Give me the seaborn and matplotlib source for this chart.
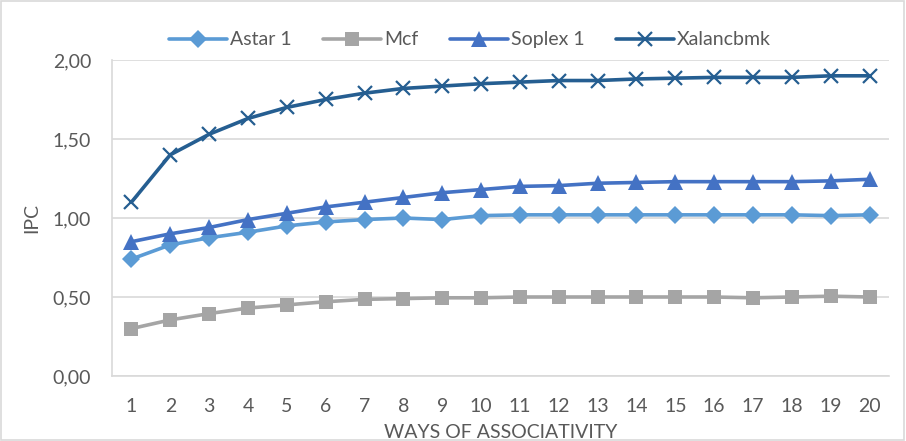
import matplotlib
matplotlib.use("Agg")
import matplotlib.pyplot as plt
import seaborn as sns
import pandas as pd
from matplotlib.patches import Rectangle

ways = list(range(1, 21))
astar = [0.74, 0.83, 0.875, 0.91, 0.95, 0.975, 0.99, 1.00, 0.99, 1.015,
         1.02, 1.02, 1.02, 1.02, 1.02, 1.02, 1.02, 1.02, 1.015, 1.02]
mcf = [0.30, 0.355, 0.395, 0.43, 0.45, 0.47, 0.485, 0.49, 0.495, 0.495,
       0.50, 0.50, 0.50, 0.50, 0.50, 0.50, 0.495, 0.50, 0.505, 0.50]
soplex = [0.85, 0.90, 0.94, 0.99, 1.03, 1.07, 1.10, 1.13, 1.16, 1.18,
          1.20, 1.205, 1.22, 1.225, 1.23, 1.23, 1.23, 1.23, 1.235, 1.245]
xalan = [1.10, 1.40, 1.53, 1.63, 1.70, 1.75, 1.79, 1.82, 1.835, 1.85,
         1.86, 1.87, 1.87, 1.88, 1.885, 1.89, 1.89, 1.89, 1.90, 1.90]
series_names = ["Astar 1", "Mcf", "Soplex 1", "Xalancbmk"]
y_ticks = [0.0, 0.5, 1.0, 1.5, 2.0]
y_tick_labels = ["0,00", "0,50", "1,00", "1,50", "2,00"]

df = pd.DataFrame({
    "ways": ways * 4,
    "ipc": astar + mcf + soplex + xalan,
    "bench": sum([[n] * len(ways) for n in series_names], []),
})

sns.set_theme(style="white")
plt.rcParams["font.family"] = ["Lato", "DejaVu Sans"]
text_color = "#595959"
grid_color = "#D9D9D9"
fs = 14

colors = {"Astar 1": "#5B9BD5", "Mcf": "#A5A5A5",
          "Soplex 1": "#4472C4", "Xalancbmk": "#255E91"}
markers = {"Astar 1": "D", "Mcf": "s", "Soplex 1": "^", "Xalancbmk": "x"}
msizes = {"Astar 1": 9, "Mcf": 10, "Soplex 1": 11, "Xalancbmk": 10}

fig = plt.figure(figsize=(9.06, 4.41), dpi=100)
ax = fig.add_axes([112 / 906, 65 / 441, 777 / 906, 316 / 441])

for name in series_names:
    sub = df[df["bench"] == name]
    sns.lineplot(data=sub, x="ways", y="ipc", ax=ax, color=colors[name],
                 linewidth=2.6, marker=markers[name], markersize=msizes[name],
                 markeredgewidth=1.6 if name == "Xalancbmk" else 0,
                 markeredgecolor=colors[name], label=name, zorder=3)

ax.set_xlim(0.5, 20.5)
ax.set_ylim(0, 2.0)
ax.set_xticks(ways)
ax.set_xticklabels([str(w) for w in ways], color=text_color, fontsize=fs)
ax.set_yticks(y_ticks)
ax.set_yticklabels(y_tick_labels, color=text_color, fontsize=fs)
ax.tick_params(axis="x", length=0, pad=16)
ax.tick_params(axis="y", length=0, pad=15)
ax.yaxis.grid(True, color=grid_color, linewidth=1.2)
ax.set_axisbelow(True)
for side in ["top", "right"]:
    ax.spines[side].set_visible(False)
for side in ["left", "bottom"]:
    ax.spines[side].set_color(grid_color)
    ax.spines[side].set_linewidth(1.2)

ax.set_xlabel("WAYS OF ASSOCIATIVITY", color=text_color, fontsize=fs, labelpad=6)
ax.set_ylabel("IPC", color=text_color, fontsize=fs, labelpad=9)

leg = ax.legend(loc="lower center", bbox_to_anchor=(470 / 906, 381 / 441),
                bbox_transform=fig.transFigure, ncol=4,
                frameon=False, fontsize=fs, handlelength=3.0,
                columnspacing=1.6, handletextpad=0.15, borderaxespad=0.2)
for t in leg.get_texts():
    t.set_color(text_color)

fig.patches.append(Rectangle((0.001, 0.002), 0.997, 0.996, transform=fig.transFigure,
                             fill=False, edgecolor=grid_color, linewidth=1.2))

fig.savefig("out.png", dpi=100)
